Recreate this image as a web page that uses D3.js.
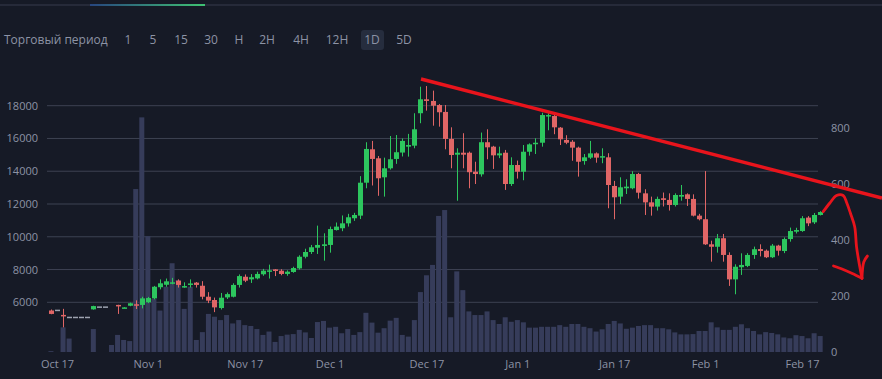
<!DOCTYPE html>
<html>
<head>
<meta charset="utf-8">
<script src="https://cdn.jsdelivr.net/npm/d3@7"></script>
<style>
    body { margin: 0; background: #161a26; }
    svg { display: block; font-family: "Open Sans", "Noto Sans", sans-serif; }
</style>
</head>
<body>
<div class="chart"></div>
<script>
// First candle date (Oct 16 2017), one candle per day after that
const startDate = Date.UTC(2017, 9, 16);

// Daily prices, null = no candle drawn that day
const open = [5500, 5550, 5230, 5120, 5120, 5120, 5120, 5570, 5750, 5750, null, 5840, 5650, 5790, 5880, 5840, 6000, 6240, 6920, 7070, 7200, 7320, 6950, 7100, 7200, 7010, 6340, 6140, 5650, 6300, 6340, 7060, 7560, 7400, 7460, 7710, 7900, 8010, 7930, 7730, 7850, 8070, 8780, 9070, 9330, 9440, 9500, 10410, 10520, 10820, 11130, 11290, 13300, 15340, 14790, 13630, 14180, 14750, 15140, 15500, 15560, 17540, 18390, 18290, 18040, 17620, 15970, 15010, 15130, 15130, 13970, 13810, 15770, 15500, 14970, 15130, 13220, 14380, 13970, 15190, 15660, 15740, 17380, 17370, 16660, 15910, 15800, 15440, 14620, 14830, 15090, 14840, 14850, 13100, 12450, 12960, 12960, 13830, 12650, 12100, 11840, 12350, 12250, 11940, 12450, 12590, 12310, 11290, 11070, 9540, 9390, 9910, 8890, 7400, 8140, 8220, 8890, 9250, 9150, 8750, 9460, 9130, 9860, 10310, 10350, 11170, 10880, 11330];
const high = [5560, 5550, 5600, 5120, 5120, 5120, 5120, 5790, 5750, 5750, null, 5850, 5700, 5980, 6120, 6340, 6330, 7000, 7400, 7450, 7490, 7400, 7220, 7400, 7240, 7290, 6620, 6290, 6570, 6600, 7160, 7700, 7700, 7720, 7870, 8040, 8300, 8030, 8020, 7950, 8170, 8870, 9270, 9500, 10680, 10210, 10620, 10870, 11300, 11400, 11460, 13700, 15770, 15850, 14930, 14830, 16150, 16210, 16000, 16280, 17540, 19160, 19200, 18920, 18100, 18040, 16680, 15400, 16320, 15200, 14580, 16360, 16560, 15550, 15500, 15300, 14850, 14650, 15600, 15700, 16010, 17570, 17540, 17430, 16700, 16200, 15900, 15500, 15050, 15850, 15150, 15400, 15100, 13410, 13630, 13510, 14000, 13900, 12900, 12450, 12450, 12700, 12650, 12650, 13160, 12650, 12590, 11400, 14010, 9760, 10170, 10170, 9050, 8320, 8990, 9000, 9400, 9540, 9220, 9560, 9510, 9960, 10560, 10550, 11260, 11260, 11450, 11560];
const low = [5270, 5550, 4470, 5120, 5120, 5120, 5120, 5550, 5750, 5750, null, 5290, 5640, 5760, 5590, 5630, 5950, 6180, 6790, 6950, 7100, 6900, 6890, 6900, 6900, 6180, 5950, 5400, 5560, 6200, 6300, 6900, 7230, 7180, 7400, 7620, 7450, 7600, 7650, 7620, 7800, 8000, 8680, 8950, 8950, 8540, 9030, 10380, 10340, 10620, 10970, 11080, 12960, 13130, 12500, 12450, 14100, 14450, 14900, 14890, 15400, 16930, 17700, 16780, 16720, 15340, 14180, 12200, 14180, 12960, 13220, 13670, 14730, 14140, 14800, 12860, 13100, 13550, 13450, 14950, 15050, 15500, 16500, 16260, 15600, 15650, 14640, 13670, 14400, 14750, 14520, 14490, 11740, 11070, 12000, 12610, 12900, 12330, 11330, 11290, 11600, 11850, 11600, 11850, 12200, 11880, 11240, 11000, 9500, 8480, 9030, 8480, 7000, 6490, 7670, 8150, 8650, 8800, 8700, 8700, 8850, 9000, 9700, 10200, 10300, 10650, 10780, 11300];
const close = [5290, 5550, 5150, 5120, 5120, 5120, 5120, 5770, 5750, 5750, null, 5790, 5690, 5940, 5800, 6240, 6260, 6950, 7160, 7280, 7220, 7060, 6990, 7150, 7060, 6340, 6100, 5690, 6280, 6500, 7060, 7600, 7320, 7530, 7730, 7930, 7950, 7910, 7730, 7870, 8090, 8780, 9070, 9360, 9500, 9540, 10470, 10620, 10820, 11190, 11330, 13300, 15360, 14750, 13570, 14180, 14730, 15160, 15850, 15600, 16560, 18390, 18290, 18000, 17600, 15970, 14990, 15130, 15010, 13940, 13830, 15770, 15460, 14970, 15090, 13220, 14380, 13970, 15190, 15640, 15740, 17430, 17430, 16680, 15950, 15740, 15440, 14580, 14850, 15090, 14830, 14920, 13160, 12410, 13020, 13060, 13830, 12690, 12100, 11840, 12310, 12250, 11940, 12550, 12550, 12310, 11290, 11070, 9540, 9390, 9910, 8890, 7400, 8170, 8280, 8890, 9240, 9130, 8750, 9460, 9150, 9860, 10350, 10410, 11130, 10820, 11330, 11510];

// Daily volume, right axis
const volume = [3, 0, 88, 48, 0, 0, 0, 82, 0, 0, 25, 61, 43, 39, 582, 838, 414, 190, 148, 233, 317, 257, 154, 233, 43, 71, 136, 126, 114, 132, 102, 114, 96, 93, 82, 61, 73, 36, 57, 62, 64, 79, 70, 50, 107, 111, 87, 90, 67, 82, 61, 71, 140, 105, 69, 85, 112, 122, 61, 55, 114, 214, 274, 311, 486, 507, 124, 288, 221, 145, 132, 132, 145, 114, 100, 124, 108, 114, 106, 87, 87, 90, 90, 90, 96, 90, 100, 100, 90, 85, 73, 81, 100, 111, 102, 83, 87, 93, 96, 96, 85, 85, 81, 70, 63, 63, 64, 75, 75, 106, 88, 79, 79, 90, 99, 85, 75, 63, 71, 68, 63, 52, 49, 60, 57, 49, 67, 57, 19];

// Axis ticks
const priceTicks = [6000, 8000, 10000, 12000, 14000, 16000, 18000];
const volumeTicks = [0, 200, 400, 600, 800];
const dateTicks = ["2017-10-17", "2017-11-01", "2017-11-17", "2017-12-01", "2017-12-17", "2018-01-01", "2018-01-17", "2018-02-01", "2018-02-17"];
const dateTickLabels = ["Oct 17", "Nov 1", "Nov 17", "Dec 1", "Dec 17", "Jan 1", "Jan 17", "Feb 1", "Feb 17"];

// Toolbar periods
const periods = ["1", "5", "15", "30", "H", "2H", "4H", "12H", "1D", "5D"];
const periodX = [128, 153, 181, 211, 239, 267, 301, 337, 372, 404];

// Drawn annotations: [days after Oct 17, price]
const trendLine = [[60.1, 19630], [136.2, 12366]];
const arrowStroke = [[126.5, 11530], [127.6, 12061], [128.7, 12519], [129.8, 12519], [130.4, 12061], [131.0, 11432], [131.7, 10614], [132.0, 9394], [132.4, 8460], [132.9, 7465]];
const arrowHeadLeft = [[128.2, 8216], [129.8, 8002], [131.3, 7758], [132.9, 7465]];
const arrowHeadRight = [[132.9, 7465], [133.2, 8460], [133.8, 8826]];

// Sizes
let width = 882;
let height = 379;
let gridLeft = 47;
let gridRight = 818;

let colors = {
    bg: "#161a26",
    up: "#2dc65e",
    down: "#e06666",
    flat: "#9ea3b0",
    volume: "#363c5a",
    grid: "#3d4252",
    text: "#8d93a5",
    marker: "#e8141c"
};

// Build candle rows from the arrays
let candles = open.map(function (o, i) {
    return {
        date: new Date(startDate + i * 864e5),
        open: o,
        high: high[i],
        low: low[i],
        close: close[i],
        volume: volume[i]
    };
});

let svg = d3.select(".chart").append("svg")
    .attr("width", width)
    .attr("height", height);

svg.append("rect")
    .attr("width", width)
    .attr("height", height)
    .attr("fill", colors.bg);

// Scales
const xScale = d3.scaleUtc()
    .domain([new Date(Date.UTC(2017, 9, 17)), new Date(Date.UTC(2018, 1, 17))])
    .range([57, 802]);

const yPrice = d3.scaleLinear()
    .domain([6000, 18000])
    .range([302.3, 105.7]);

const yVolume = d3.scaleLinear()
    .domain([0, 800])
    .range([352, 128]);

let dayX = function (d) {
    return xScale(new Date(Date.UTC(2017, 9, 17) + d * 864e5));
};

// Top bar line with the coloured tab underline
let grad = svg.append("defs").append("linearGradient")
    .attr("id", "tabGrad");
grad.append("stop").attr("offset", "0%").attr("stop-color", "#27457f");
grad.append("stop").attr("offset", "100%").attr("stop-color", "#3fc273");

svg.append("line")
    .attr("x1", 0).attr("x2", width)
    .attr("y1", 5).attr("y2", 5)
    .attr("stroke", "#2c3140")
    .attr("stroke-width", 1.5);

svg.append("rect")
    .attr("x", 90).attr("y", 4)
    .attr("width", 115).attr("height", 2)
    .attr("fill", "url(#tabGrad)");

// Toolbar text
svg.append("text")
    .attr("x", 4)
    .attr("y", 44)
    .attr("fill", colors.text)
    .style("font-size", "12px")
    .text("Торговый период");

svg.append("rect")
    .attr("x", 361).attr("y", 30)
    .attr("width", 23).attr("height", 20)
    .attr("rx", 3)
    .attr("fill", "#262d3e");

svg.selectAll(".period").data(periods).enter()
    .append("text")
    .attr("class", "period")
    .attr("x", function (d, i) { return periodX[i]; })
    .attr("y", 44)
    .attr("text-anchor", "middle")
    .attr("fill", colors.text)
    .style("font-size", "12px")
    .text(function (d) { return d; });

// Gridlines
svg.selectAll(".grid").data(priceTicks).enter()
    .append("line")
    .attr("class", "grid")
    .attr("x1", gridLeft)
    .attr("x2", gridRight)
    .attr("y1", function (d) { return yPrice(d); })
    .attr("y2", function (d) { return yPrice(d); })
    .attr("stroke", colors.grid)
    .attr("stroke-width", 1);

// Left price axis
let leftAxis = svg.append("g")
    .attr("transform", "translate(38, 0)")
    .call(d3.axisLeft(yPrice).tickValues(priceTicks).tickFormat(d3.format("d")).tickSize(0).tickPadding(0));

// Right volume axis
let rightAxis = svg.append("g")
    .attr("transform", "translate(831, 0)")
    .call(d3.axisRight(yVolume).tickValues(volumeTicks).tickFormat(d3.format("d")).tickSize(0).tickPadding(0));

// Bottom date axis
let bottomAxis = svg.append("g")
    .attr("transform", "translate(0, 358)")
    .call(d3.axisBottom(xScale)
        .tickValues(dateTicks.map(function (d) { return new Date(d + "T00:00:00Z"); }))
        .tickFormat(function (d, i) { return dateTickLabels[i]; })
        .tickSize(0)
        .tickPadding(0));

[leftAxis, rightAxis, bottomAxis].forEach(function (axis) {
    axis.select(".domain").remove();
    axis.selectAll("text")
        .attr("fill", colors.text)
        .style("font-family", "\"Open Sans\", sans-serif")
        .style("font-size", "11px");
});
bottomAxis.selectAll("text").attr("dy", "0.71em").attr("y", 2);

// Volume bars
let barWidth = 5;
svg.selectAll(".vol").data(candles.filter(function (d) { return d.volume > 0; })).enter()
    .append("rect")
    .attr("class", "vol")
    .attr("x", function (d) { return xScale(d.date) - barWidth / 2; })
    .attr("y", function (d) { return yVolume(d.volume); })
    .attr("width", barWidth)
    .attr("height", function (d) { return yVolume(0) - yVolume(d.volume); })
    .attr("fill", colors.volume);

// Candles
let colorOf = function (d) {
    if (d.close > d.open) return colors.up;
    if (d.close < d.open) return colors.down;
    return colors.flat;
};

let candleData = candles.filter(function (d) { return d.open != null; });

let candle = svg.selectAll(".candle").data(candleData).enter()
    .append("g")
    .attr("class", "candle");

// wicks
candle.filter(function (d) { return d.high > d.low; })
    .append("line")
    .attr("x1", function (d) { return Math.round(xScale(d.date)) + 0.5; })
    .attr("x2", function (d) { return Math.round(xScale(d.date)) + 0.5; })
    .attr("y1", function (d) { return yPrice(d.high); })
    .attr("y2", function (d) { return yPrice(d.low); })
    .attr("stroke", colorOf)
    .attr("stroke-width", 1);

// bodies
candle.append("rect")
    .attr("x", function (d) { return Math.round(xScale(d.date)) - 2; })
    .attr("y", function (d) { return yPrice(Math.max(d.open, d.close)); })
    .attr("width", barWidth)
    .attr("height", function (d) {
        return Math.max(1.5, yPrice(Math.min(d.open, d.close)) - yPrice(Math.max(d.open, d.close)));
    })
    .attr("fill", colorOf);

// Red trend line
let line = d3.line()
    .x(function (d) { return dayX(d[0]); })
    .y(function (d) { return yPrice(d[1]); });

svg.append("path")
    .attr("d", line(trendLine))
    .attr("fill", "none")
    .attr("stroke", colors.marker)
    .attr("stroke-width", 3.5);

// Hand drawn arrow
let freehand = d3.line()
    .x(function (d) { return dayX(d[0]); })
    .y(function (d) { return yPrice(d[1]); })
    .curve(d3.curveCatmullRom);

[arrowStroke, arrowHeadLeft, arrowHeadRight].forEach(function (pts) {
    svg.append("path")
        .attr("d", freehand(pts))
        .attr("fill", "none")
        .attr("stroke", colors.marker)
        .attr("stroke-width", 2.8)
        .attr("stroke-linecap", "round")
        .attr("stroke-linejoin", "round");
});
</script>
</body>
</html>
